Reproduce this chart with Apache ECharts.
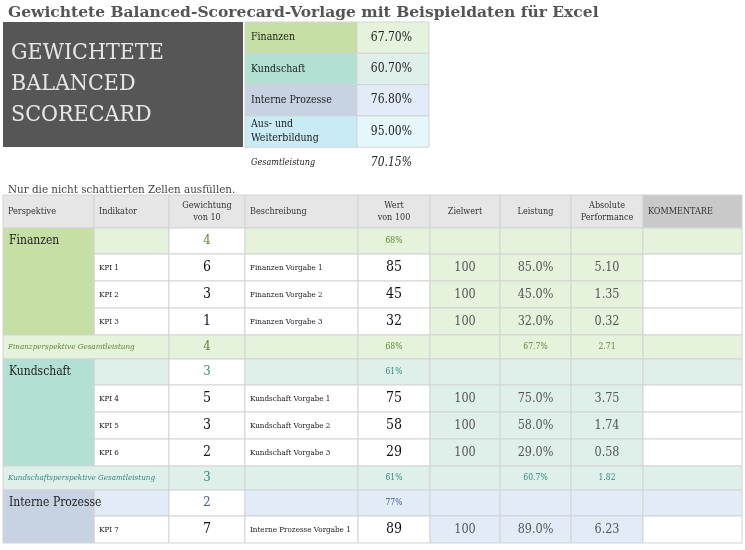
<!DOCTYPE html>
<html>
<head>
<meta charset="utf-8">
<script src="https://cdn.jsdelivr.net/npm/echarts@6/dist/echarts.min.js"></script>
</head>
<body style="margin:0;background:#fff">
<div id="main" style="width:745px;height:550px;"></div>
<script>
// Übersicht
var summaryNames = ['Finanzen', 'Kundschaft', 'Interne Prozesse', 'Aus- und\nWeiterbildung'];
var summaryValues = [67.70, 60.70, 76.80, 95.00];
var totalScore = 70.15;

// Tabelle
var headers = ['Perspektive', 'Indikator', 'Gewichtung\nvon 10', 'Beschreibung', 'Wert\nvon 100', 'Zielwert', 'Leistung', 'Absolute\nPerformance', 'KOMMENTARE'];
var perspectives = ['Finanzen', 'Kundschaft', 'Interne Prozesse'];
var groupWeights = [4, 3, 2];
var groupPct = [68, 61, 77];
var groupLeistung = [67.7, 60.7, null];
var groupAbs = [2.71, 1.82, null];
var groupTotalLabels = ['Finanzperspektive Gesamtleistung', 'Kundschaftsperspektive Gesamtleistung', ''];
var kpiGroup = [0, 0, 0, 1, 1, 1, 2];
var kpiNames = ['KPI 1', 'KPI 2', 'KPI 3', 'KPI 4', 'KPI 5', 'KPI 6', 'KPI 7'];
var kpiWeights = [6, 3, 1, 5, 3, 2, 7];
var kpiDesc = ['Finanzen Vorgabe 1', 'Finanzen Vorgabe 2', 'Finanzen Vorgabe 3', 'Kundschaft Vorgabe 1', 'Kundschaft Vorgabe 2', 'Kundschaft Vorgabe 3', 'Interne Prozesse Vorgabe 1'];
var kpiValues = [85, 45, 32, 75, 58, 29, 89];
var kpiTargets = [100, 100, 100, 100, 100, 100, 100];
var kpiLeistung = [85.0, 45.0, 32.0, 75.0, 58.0, 29.0, 89.0];
var kpiAbs = [5.10, 1.35, 0.32, 3.75, 1.74, 0.58, 6.23];

var FONT = "'DejaVu Serif Condensed', 'DejaVu Serif', serif";
var dark = ['#c5dfa5', '#b2e1d3', '#c7d2e3', '#c8ebf5'];
var light = ['#e5f2dc', '#dff0ea', '#e2ebf8', '#e6f7fc'];
var accent = ['#5b8b2f', '#2e8b7c', '#3b5a9c'];
var colX = [3, 94, 169, 245, 358, 430, 500, 571, 643, 742];

var cells = [];
function cell(c0, c1, y0, y1, fill, text, st) {
    st = st || {};
    cells.push({x0: colX[c0], x1: colX[c1], y0: y0, y1: y1, fill: fill, text: text,
        size: st.size || 10, color: st.color || '#222', align: st.align || 'center',
        style: st.style || 'normal', weight: st.weight || 'normal', stroke: st.stroke === undefined ? '#d3d3d3' : st.stroke});
}
function fmt(v, d) { return v.toFixed(d); }

// oberer Block
cells.push({x0: 3, x1: 243, y0: 22, y1: 147, fill: '#565656', text: 'GEWICHTETE\nBALANCED\nSCORECARD', size: 23, color: '#e6e6e6', align: 'left', style: 'normal', weight: 'normal', stroke: null, pad: 8, lh: 31});
summaryNames.forEach(function (n, i) {
    var y0 = 22 + i * 31.3, y1 = 22 + (i + 1) * 31.3;
    cells.push({x0: 245, x1: 357, y0: y0, y1: y1, fill: dark[i], text: n, size: 10.5, color: '#222', align: 'left', style: 'normal', weight: 'normal', stroke: '#d3d3d3', pad: 6});
    cells.push({x0: 357, x1: 429, y0: y0, y1: y1, fill: light[i], text: fmt(summaryValues[i], 2) + '%', size: 12, color: '#222', align: 'right', style: 'normal', weight: 'normal', stroke: '#d3d3d3', pad: 17});
});
cells.push({x0: 245, x1: 357, y0: 149, y1: 177, fill: null, text: 'Gesamtleistung', size: 9, color: '#222', align: 'left', style: 'italic', weight: 'normal', stroke: null, pad: 6});
cells.push({x0: 357, x1: 429, y0: 149, y1: 177, fill: null, text: fmt(totalScore, 2) + '%', size: 12, color: '#222', align: 'right', style: 'italic', weight: 'normal', stroke: null, pad: 17});

// Kopfzeile
var y = 195;
headers.forEach(function (h, c) {
    var al = (c === 0 || c === 1 || c === 3 || c === 8) ? 'left' : 'center';
    cell(c, c + 1, y, y + 33, c === 8 ? '#c9c9c9' : '#e6e6e6', h, {size: 9, color: '#333', align: al});
});
y += 33;

var RH = 27;
perspectives.forEach(function (p, g) {
    var ks = [];
    kpiGroup.forEach(function (gg, k) { if (gg === g) ks.push(k); });
    var yStart = y;
    // Gruppenkopf
    cell(1, 2, y, y + 26, light[g], '');
    cell(2, 3, y, y + 26, '#ffffff', String(groupWeights[g]), {size: 13, color: accent[g]});
    cell(3, 4, y, y + 26, light[g], '');
    cell(4, 5, y, y + 26, light[g], groupPct[g] + '%', {size: 8.5, color: accent[g]});
    for (var c = 5; c < 9; c++) cell(c, c + 1, y, y + 26, light[g], '');
    y += 26;
    ks.forEach(function (k) {
        cell(1, 2, y, y + RH, '#ffffff', kpiNames[k], {size: 8, align: 'left'});
        cell(2, 3, y, y + RH, '#ffffff', String(kpiWeights[k]), {size: 14, color: '#111'});
        cell(3, 4, y, y + RH, '#ffffff', kpiDesc[k], {size: 8, align: 'left'});
        cell(4, 5, y, y + RH, '#ffffff', String(kpiValues[k]), {size: 14, color: '#111'});
        cell(5, 6, y, y + RH, light[g], String(kpiTargets[k]), {size: 12.5, color: '#555'});
        cell(6, 7, y, y + RH, light[g], fmt(kpiLeistung[k], 1) + '%', {size: 12.5, color: '#555'});
        cell(7, 8, y, y + RH, light[g], fmt(kpiAbs[k], 2), {size: 12.5, color: '#555'});
        cell(8, 9, y, y + RH, '#ffffff', '');
        y += RH;
    });
    // Perspektive (über Kopf + KPIs)
    cells.push({x0: colX[0], x1: colX[1], y0: yStart, y1: y, fill: dark[g], text: p, size: 12, color: '#222', align: 'left', style: 'normal', weight: 'normal', stroke: '#d3d3d3', top: true, pad: 6});
    if (groupLeistung[g] !== null) {
        cell(0, 2, y, y + 24, light[g], groupTotalLabels[g], {size: 8, color: accent[g], align: 'left', style: 'italic'});
        cell(2, 3, y, y + 24, light[g], String(groupWeights[g]), {size: 13, color: accent[g]});
        cell(3, 4, y, y + 24, light[g], '');
        cell(4, 5, y, y + 24, light[g], groupPct[g] + '%', {size: 8.5, color: accent[g]});
        cell(5, 6, y, y + 24, light[g], '');
        cell(6, 7, y, y + 24, light[g], fmt(groupLeistung[g], 1) + '%', {size: 8.5, color: accent[g]});
        cell(7, 8, y, y + 24, light[g], fmt(groupAbs[g], 2), {size: 8.5, color: accent[g]});
        cell(8, 9, y, y + 24, light[g], '');
        y += 24;
    }
});

var chart = echarts.init(document.getElementById('main'));
chart.setOption({
    animation: false,
    title: [
        {text: 'Gewichtete Balanced-Scorecard-Vorlage mit Beispieldaten für Excel', left: 3, top: 0,
            textStyle: {fontFamily: 'DejaVu Serif', fontWeight: 'bold', fontSize: 15.5, color: '#555'}},
        {text: 'Nur die nicht schattierten Zellen ausfüllen.', left: 3, top: 179,
            textStyle: {fontFamily: FONT, fontWeight: 'normal', fontSize: 11.5, color: '#444'}}
    ],
    series: [{
        type: 'custom',
        coordinateSystem: 'none',
        data: cells.map(function (c, i) { return i; }),
        renderItem: function (params, api) {
            var c = cells[params.dataIndex];
            var pad = c.pad !== undefined ? c.pad : 5;
            var tx = c.align === 'left' ? c.x0 + pad : c.align === 'right' ? c.x1 - pad : (c.x0 + c.x1) / 2;
            return {
                type: 'group',
                children: [{
                    type: 'rect',
                    shape: {x: c.x0, y: c.y0, width: c.x1 - c.x0, height: c.y1 - c.y0},
                    style: {fill: c.fill || 'transparent', stroke: c.stroke || null, lineWidth: 1}
                }, {
                    type: 'text',
                    x: tx,
                    y: c.top ? c.y0 + 13 : (c.y0 + c.y1) / 2,
                    style: {
                        text: c.text, fill: c.color, fontSize: c.size, fontFamily: FONT,
                        fontStyle: c.style, fontWeight: c.weight,
                        align: c.align, verticalAlign: 'middle',
                        lineHeight: c.lh || Math.round(c.size * 1.35)
                    }
                }]
            };
        }
    }]
});
</script>
</body>
</html>
